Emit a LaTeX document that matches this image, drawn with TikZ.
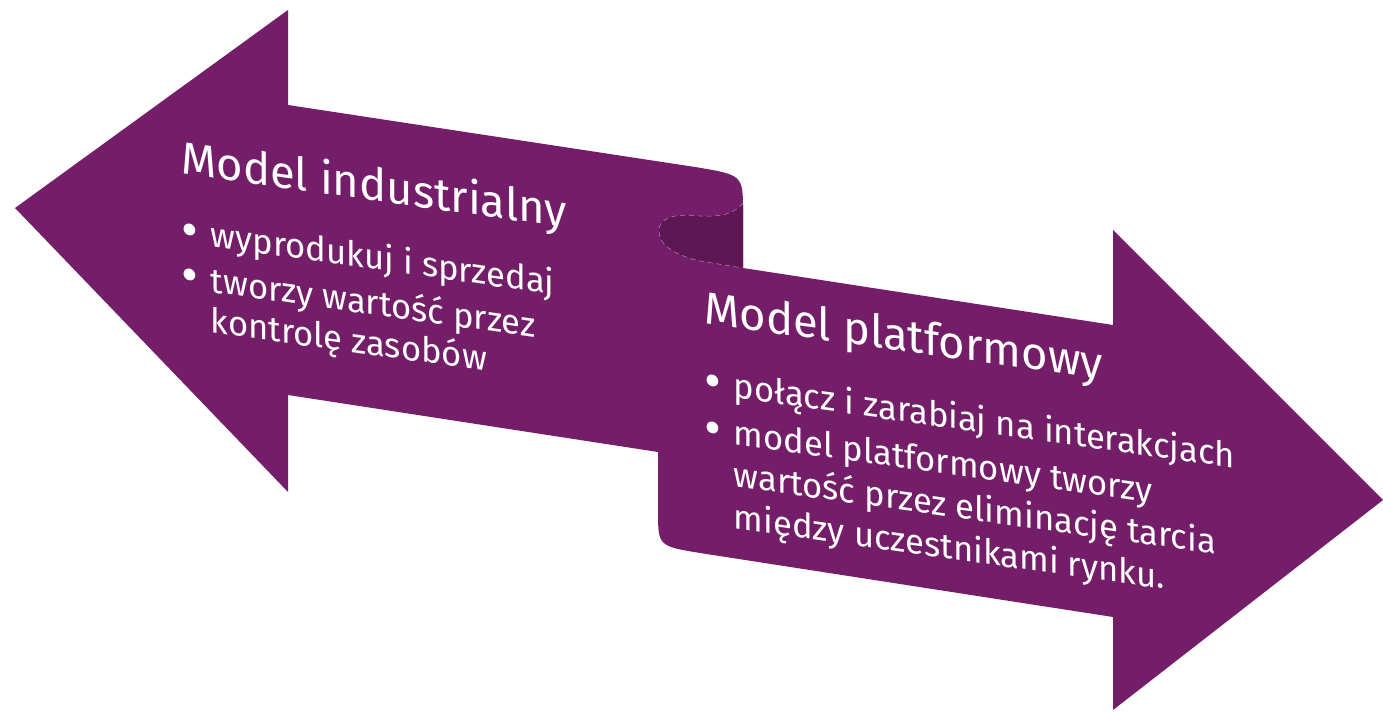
\documentclass[tikz,border=0pt]{standalone}
\usepackage{fontspec}
\usepackage{graphicx}
\setmainfont{Fira Sans}
\definecolor{fiolet}{HTML}{741D69}
\definecolor{ciemnyfiolet}{HTML}{5D1753}
\newcommand{\pkt}[1]{\makebox[16.8pt][l]{\raisebox{-0.11em}{\scalebox{1.5}{\textbullet}}}#1}
\newcommand{\dalej}[1]{\hspace*{16.8pt}#1}
\newcommand{\tytul}{\fontsize{25.8}{30}\selectfont}

\begin{document}
\begin{tikzpicture}[x=0.02cm, y=-0.02cm,
    opis/.style={text=white, align=left, inner sep=0pt, yslant=-0.14, anchor=north west}]
\useasboundingbox (0,0) rectangle (1383,712);
% wstega z dwiema strzalkami
\fill[fiolet] (15,208) -- (288,10) -- (288,105) -- (695,167) .. controls (743,175) .. (743,212)
    -- (743,268) -- (1113,325) -- (1113,230) -- (1383,500) -- (1113,710) -- (1113,617)
    -- (700,553) .. controls (658,546) .. (658,510) -- (658,452) -- (288,395) -- (288,492) -- cycle;
% zawiniecie wstegi
\fill[ciemnyfiolet] (743,203) .. controls (735,214) and (720,217) .. (700,216)
    .. controls (680,214) and (660,215) .. (659,230) .. controls (658,245) and (675,255) .. (700,261)
    -- (743,268) -- cycle;
\draw[fiolet!55!white, line width=0.3pt, densely dashed] (743,203) .. controls (735,214) and (720,217) .. (700,216)
    .. controls (680,214) and (660,215) .. (659,230) .. controls (658,245) and (675,255) .. (700,261)
    -- (743,268);
\node[opis, font=\fontsize{19.7}{23}\selectfont] (przemyslowy) at (181,138) {{\tytul Model industrialny}\\[16pt]
    \pkt{wyprodukuj i sprzedaj}\\[3pt]
    \pkt{tworzy wartość przez}\\
    \dalej{kontrolę zasobów}};
\node[opis, font=\fontsize{19.7}{24}\selectfont] (platformowy) at (704,289) {{\tytul Model platformowy}\\[16pt]
    \pkt{połącz i zarabiaj na interakcjach}\\[2.5pt]
    \pkt{model platformowy tworzy}\\
    \dalej{wartość przez eliminację tarcia}\\
    \dalej{między uczestnikami rynku.}};
\end{tikzpicture}
\end{document}
